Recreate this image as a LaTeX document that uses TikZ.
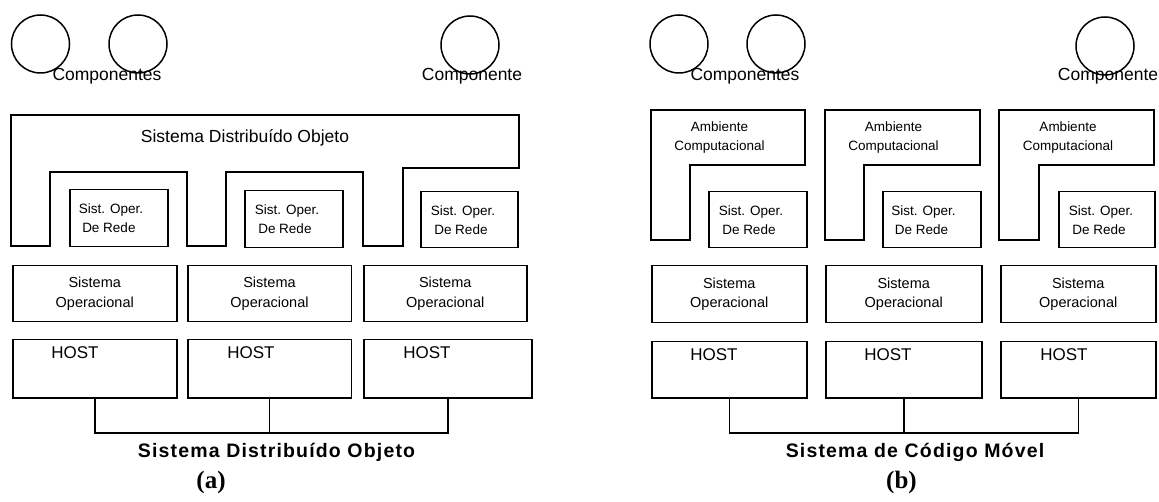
\documentclass[tikz,border=0pt]{standalone}
\usepackage{fontspec}
\setmainfont{Liberation Sans}
\newfontfamily\capfont{Liberation Serif}
\newfontfamily\lblfont[LetterSpace=6]{Liberation Sans}
\begin{document}
\begin{tikzpicture}[x=1pt,y=-1pt,line width=1.5pt,
  box/.style={draw,rectangle,inner sep=0pt,anchor=north west},
  comp/.style={draw,circle,minimum size=58pt,inner sep=0pt},
  comptext/.style={anchor=base,inner sep=0pt,font=\fontsize{17.5}{20}\selectfont},
  sortext/.style={anchor=west,align=left,inner sep=0pt,font=\fontsize{13.5}{19}\selectfont},
  soptext/.style={align=center,inner sep=0pt,font=\fontsize{14.5}{19.5}\selectfont},
  ambtext/.style={align=center,inner sep=0pt,font=\fontsize{13.5}{19}\selectfont},
  hosttext/.style={inner sep=0pt,font=\fontsize{17}{20}\selectfont},
  bigtext/.style={inner sep=0pt,font=\fontsize{17.5}{20}\selectfont},
  lbltext/.style={anchor=base,inner sep=0pt,font=\lblfont\bfseries\fontsize{19.5}{22}\selectfont},
  captext/.style={anchor=base,inner sep=0pt,font=\capfont\bfseries\fontsize{25}{27}\selectfont}]
\useasboundingbox (0,0) rectangle (1159,502);

% ================= panel (a) =================
\node[comp] (ca1) at (40.5,44) {};
\node[comp] (ca2) at (138,44) {};
\node[comp] (ca3) at (470,45) {};
\node[comptext] (cta) at (107,81) {Componentes};
\node[comptext] (cta3) at (472,81) {Componente};

\draw (11,115) -- (519,115) -- (519,168) -- (403,168) -- (403,246) -- (363,246)
  -- (363,172) -- (226,172) -- (226,246) -- (187,246) -- (187,172) -- (50,172)
  -- (50,246) -- (11,246) -- cycle;
\node[bigtext] (sdo) at (245,138) {Sistema Distribuído Objeto};

\node[box,minimum width=98pt,minimum height=57pt] (sora1) at (69,189) {};
\node[box,minimum width=98pt,minimum height=57pt] (sora2) at (244,190) {};
\node[box,minimum width=97pt,minimum height=56pt] (sora3) at (420,191) {};
\node[sortext] (sorta1) at ([xshift=9pt]sora1.west) {Sist. Oper.\\\hspace{3.5pt}De Rede};
\node[sortext] (sorta2) at ([xshift=10pt]sora2.west) {Sist. Oper.\\\hspace{3.5pt}De Rede};
\node[sortext] (sorta3) at ([xshift=10pt]sora3.west) {Sist. Oper.\\\hspace{3.5pt}De Rede};

\node[box,minimum width=164pt,minimum height=56pt] (sopa1) at (12,265) {};
\node[box,minimum width=163.5pt,minimum height=56pt] (sopa2) at (187,265) {};
\node[box,minimum width=163pt,minimum height=56pt] (sopa3) at (363,265) {};
\node[soptext] at (sopa1.center) {Sistema\\Operacional};
\node[soptext] at (sopa2.center) {Sistema\\Operacional};
\node[soptext] at (sopa3.center) {Sistema\\Operacional};

\node[box,minimum width=164pt,minimum height=58pt] (ha1) at (12,339) {};
\node[box,minimum width=163.5pt,minimum height=58pt] (ha2) at (187,339) {};
\node[box,minimum width=168pt,minimum height=58pt] (ha3) at (363,339) {};
\node[hosttext] (hta1) at (75,353) {HOST};
\node[hosttext] (hta2) at (251,353) {HOST};
\node[hosttext] (hta3) at (427,353) {HOST};

\coordinate (busa) at (266,433);
\draw (ha1.south) -- (ha1.south |- busa) -- (ha3.south |- busa) -- (ha3.south);
\draw (ha2.south) -- (ha2.south |- busa);

\node[lbltext] (laba) at (276.5,457) {Sistema Distribuído Objeto};
\node[captext] (capa) at (211,488) {(a)};

% ================= panel (b) =================
\node[comp] (cb1) at (679,44) {};
\node[comp] (cb2) at (776,44) {};
\node[comp] (cb3) at (1105,46) {};
\node[comptext] (ctb) at (745,81) {Componentes};
\node[comptext] (ctb3) at (1108,81) {Componente};

\draw (651,110) -- (805,110) -- (805,165) -- (690,165) -- (690,240) -- (651,240) -- cycle;
\draw (825,110) -- (980,110) -- (980,165) -- (864,165) -- (864,240) -- (825,240) -- cycle;
\draw (999,110) -- (1154,110) -- (1154,165) -- (1039,165) -- (1039,240) -- (999,240) -- cycle;
\node[ambtext] (amb1) at (719.5,137.5) {Ambiente\\Computacional};
\node[ambtext] (amb2) at (893.5,137.5) {Ambiente\\Computacional};
\node[ambtext] (amb3) at (1068,137.5) {Ambiente\\Computacional};

\node[box,minimum width=98pt,minimum height=56pt] (sorb1) at (708,191) {};
\node[box,minimum width=98pt,minimum height=56pt] (sorb2) at (882,191) {};
\node[box,minimum width=96pt,minimum height=56pt] (sorb3) at (1058,191) {};
\node[sortext] (sortb1) at ([xshift=10pt]sorb1.west) {Sist. Oper.\\\hspace{3.5pt}De Rede};
\node[sortext] (sortb2) at ([xshift=8.5pt]sorb2.west) {Sist. Oper.\\\hspace{3.5pt}De Rede};
\node[sortext] (sortb3) at ([xshift=10pt]sorb3.west) {Sist. Oper.\\\hspace{3.5pt}De Rede};

\node[box,minimum width=155pt,minimum height=57pt] (sopb1) at (651,265) {};
\node[box,minimum width=156pt,minimum height=57pt] (sopb2) at (825,265) {};
\node[box,minimum width=155pt,minimum height=57pt] (sopb3) at (1000,265) {};
\node[soptext] at (sopb1.center) {Sistema\\Operacional};
\node[soptext] at (sopb2.center) {Sistema\\Operacional};
\node[soptext] at (sopb3.center) {Sistema\\Operacional};

\node[box,minimum width=155pt,minimum height=56pt] (hb1) at (651,341) {};
\node[box,minimum width=156pt,minimum height=56pt] (hb2) at (825,341) {};
\node[box,minimum width=155pt,minimum height=56pt] (hb3) at (1000,341) {};
\node[hosttext] (htb1) at (714,355) {HOST};
\node[hosttext] (htb2) at (888,355) {HOST};
\node[hosttext] (htb3) at (1064,355) {HOST};

\coordinate (busb) at (903,433);
\draw (hb1.south) -- (hb1.south |- busb) -- (hb3.south |- busb) -- (hb3.south);
\draw (hb2.south) -- (hb2.south |- busb);

\node[lbltext] (labb) at (915,457) {Sistema de Código Móvel};
\node[captext] (capb) at (901.5,488) {(b)};
\end{tikzpicture}
\end{document}
